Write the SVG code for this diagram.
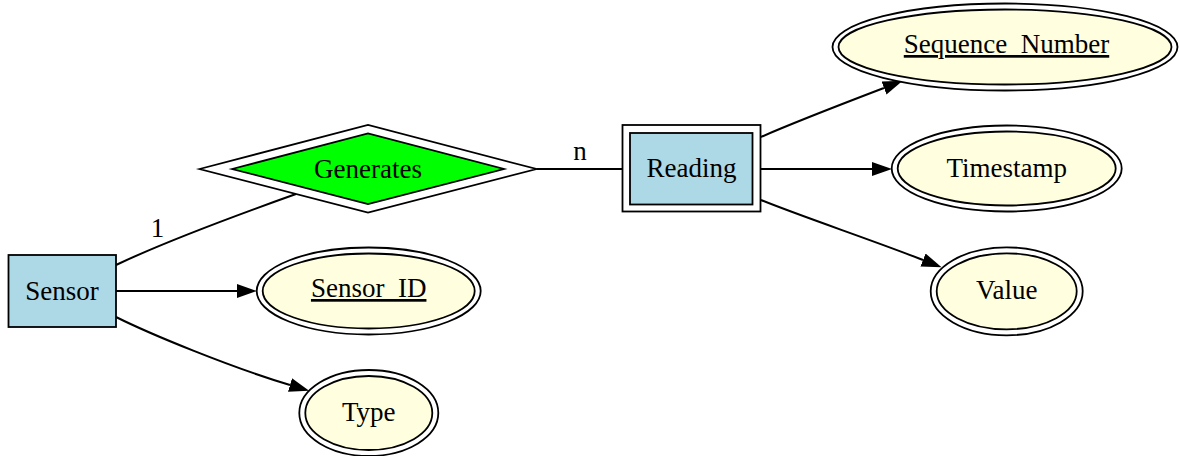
<svg xmlns="http://www.w3.org/2000/svg" width="1179" height="456" viewBox="0 0 1179 456">
  <defs>
    <marker id="arrow" markerUnits="userSpaceOnUse" viewBox="0 0 20 14" refX="0" refY="7" markerWidth="20" markerHeight="14" orient="auto">
      <path d="M0,0 L20,7 L0,14 Z" fill="#000"/>
    </marker>
    <style>
      text { font-family: "Liberation Serif", "Times New Roman", serif; font-size: 27px; fill: #000; text-anchor: middle; }
      .key { text-decoration: underline; }
      .entity { fill: #add8e6; stroke: #000; stroke-width: 1.8; }
      .plain { fill: #fff; stroke: #000; stroke-width: 1.8; }
      .rel { fill: #00ff00; stroke: #000; stroke-width: 1.8; }
      .attr-out { fill: #fff; stroke: #000; stroke-width: 1.8; }
      .attr-in { fill: #ffffe0; stroke: #000; stroke-width: 1.8; }
      .edge { fill: none; stroke: #000; stroke-width: 2; }
      .arrowed { marker-end: url(#arrow); }
    </style>
  </defs>
  <rect width="1179" height="456" fill="#fff"/>

  <!-- connectors -->
  <g id="edges">
    <path class="edge" d="M116,265 C160,244 240,214 296,194"/>
    <text x="157.5" y="237">1</text>
    <path class="edge" d="M536.5,169 L622.5,169"/>
    <text x="580" y="160">n</text>
    <path class="edge arrowed" d="M116,291 L237,291"/>
    <path class="edge arrowed" d="M116,317 C150,334 230,367 290,385"/>
    <path class="edge arrowed" d="M761,137 C795,122 850,101 884,88"/>
    <path class="edge arrowed" d="M761,169 L872,169"/>
    <path class="edge arrowed" d="M761,200 C800,216 875,241 923,260"/>
  </g>

  <!-- entity: Sensor -->
  <g id="Sensor">
    <rect class="entity" x="8.5" y="255" width="107.5" height="72"/>
    <text x="62" y="300">Sensor</text>
  </g>

  <!-- relationship: Generates -->
  <g id="Generates">
    <polygon class="plain" points="199.5,169 368,125 536.5,169 368,212.5"/>
    <polygon class="rel" points="232,169 368,133.5 504,169 368,204"/>
    <text x="368" y="177.5">Generates</text>
  </g>

  <!-- weak entity: Reading -->
  <g id="Reading">
    <rect class="plain" x="622.5" y="125" width="138" height="86.5"/>
    <rect class="entity" x="630" y="133" width="122.5" height="71.5"/>
    <text x="691.5" y="177">Reading</text>
  </g>

  <!-- attributes of Sensor -->
  <g id="Sensor_ID">
    <ellipse class="attr-out" cx="368.7" cy="291" rx="112" ry="43.5"/>
    <ellipse class="attr-in" cx="368.7" cy="291" rx="106" ry="37.5"/>
    <text class="key" x="368.7" y="297">Sensor_ID</text>
  </g>
  <g id="Type">
    <ellipse class="attr-out" cx="368.8" cy="413" rx="69.5" ry="43"/>
    <ellipse class="attr-in" cx="368.8" cy="413" rx="63.5" ry="37"/>
    <text x="368.8" y="420.5">Type</text>
  </g>

  <!-- attributes of Reading -->
  <g id="Sequence_Number">
    <ellipse class="attr-out" cx="1005" cy="47" rx="172.5" ry="43.5"/>
    <ellipse class="attr-in" cx="1005" cy="47" rx="166.5" ry="37.5"/>
    <text class="key" x="1006.5" y="53">Sequence_Number</text>
  </g>
  <g id="Timestamp">
    <ellipse class="attr-out" cx="1006.7" cy="168.5" rx="115" ry="43"/>
    <ellipse class="attr-in" cx="1006.7" cy="168.5" rx="109" ry="37"/>
    <text x="1006.7" y="177">Timestamp</text>
  </g>
  <g id="Value">
    <ellipse class="attr-out" cx="1006.7" cy="291.3" rx="76" ry="44"/>
    <ellipse class="attr-in" cx="1006.7" cy="291.3" rx="70" ry="38"/>
    <text x="1006.7" y="298.5">Value</text>
  </g>
</svg>
